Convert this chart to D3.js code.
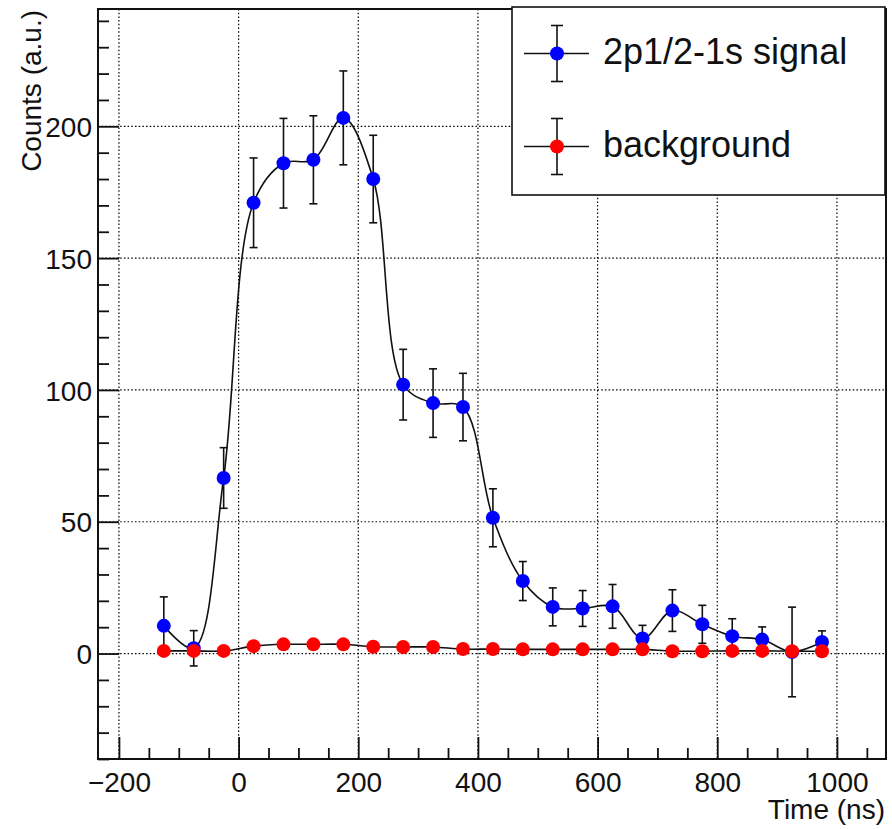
<!DOCTYPE html>
<html>
  <head>
    <meta charset="utf-8">
    <title>Counts vs time</title>
    <style>
      body { margin: 0; background: #fff; }
      text { font-family: "Liberation Sans", Arial, sans-serif; fill: #111; }
      .grid line { stroke: #000; stroke-width: 1.2; stroke-dasharray: 1.5,2.2; }
      .axis path { display: none; }
      .axis line { stroke: #111; stroke-width: 1.8; }
      path.curve { fill: none; stroke: #111; stroke-width: 1.6; }
      line.err { stroke: #111; stroke-width: 1.6; }
    </style>
    <script src="https://d3js.org/d3.v7.min.js"></script>
  </head>
  <body>
    <svg id="chart" width="892" height="829"></svg>
    <script>
      // bin centres (ns)
      var times = [-125, -75, -25, 25, 75, 125, 175, 225, 275, 325, 375, 425,
                   475, 525, 575, 625, 675, 725, 775, 825, 875, 925, 975]
      // 2p1/2-1s signal
      var signal    = [10.5, 2, 66.6, 171, 186, 187.3, 203.2, 180, 102, 95, 93.5, 51.5,
                       27.5, 17.7, 17.1, 17.9, 5.7, 16.3, 11.1, 6.6, 5.3, 0.6, 4.4]
      var signalErr = [11, 6.7, 11.5, 17, 17, 16.7, 17.8, 16.6, 13.4, 13, 12.8, 11,
                       7.4, 7.2, 6.8, 8.3, 5, 7.9, 7.2, 6.6, 4.8, 17, 4.2]
      // background
      var bkg    = [1.0, 1.0, 1.0, 2.8, 3.5, 3.5, 3.5, 2.6, 2.5, 2.5, 1.7, 1.7,
                    1.6, 1.6, 1.6, 1.6, 1.6, 0.9, 0.9, 1.0, 1.0, 0.9, 0.9]
      var bkgErr = [1.2, 1.2, 1.2, 1.4, 1.5, 1.5, 1.5, 1.4, 1.4, 1.4, 1.2, 1.2,
                    1.2, 1.2, 1.2, 1.2, 1.2, 1.0, 1.0, 1.0, 1.0, 1.0, 1.0]

      var xMajor = [-200, 0, 200, 400, 600, 800, 1000]
      var xMinor = d3.range(-200, 1051, 50).filter(v => xMajor.indexOf(v) < 0)
      var yMajor = [0, 50, 100, 150, 200]
      var yMinor = d3.range(-40, 241, 10).filter(v => yMajor.indexOf(v) < 0)

      var legendNames = ["2p1/2-1s signal", "background"]
      var legendColors = ["#0000ff", "#ff0000"]

      function drawChart(){
        var svg = d3.select("#chart")
        var left = 98, right = 886, pTop = 9, bottom = 759

        var x = d3.scaleLinear().domain([-235, 1082]).range([left, right])
        var y = d3.scaleLinear().domain([-40, 244.5]).range([bottom, pTop])

        // grid
        var grid = svg.append("g").attr("class", "grid")
        grid.selectAll("line.gx").data(xMajor).join("line")
            .attr("class", "gx")
            .attr("x1", d => x(d)).attr("x2", d => x(d))
            .attr("y1", pTop).attr("y2", bottom)
        grid.selectAll("line.gy").data(yMajor).join("line")
            .attr("class", "gy")
            .attr("x1", left).attr("x2", right)
            .attr("y1", d => y(d)).attr("y2", d => y(d))

        // axes, ticks drawn inward
        svg.append("g").attr("class", "axis")
           .attr("transform", "translate(0," + bottom + ")")
           .call(d3.axisBottom(x).tickValues(xMinor).tickSize(-11).tickFormat(""))
        var xa = svg.append("g").attr("class", "axis")
           .attr("transform", "translate(0," + bottom + ")")
           .call(d3.axisBottom(x).tickValues(xMajor).tickSize(-22).tickFormat(d3.format("d")))
        xa.selectAll("text").attr("y", 33).attr("dy", 0)
          .style("font-size", "28px").attr("fill", "#111")

        svg.append("g").attr("class", "axis")
           .attr("transform", "translate(" + left + ",0)")
           .call(d3.axisLeft(y).tickValues(yMinor).tickSize(-11).tickFormat(""))
        var ya = svg.append("g").attr("class", "axis")
           .attr("transform", "translate(" + left + ",0)")
           .call(d3.axisLeft(y).tickValues(yMajor).tickSize(-21).tickFormat(d3.format("d")))
        ya.selectAll("text").attr("x", -6).attr("dy", "0.36em")
          .style("font-size", "28px").attr("fill", "#111")

        // axis titles
        svg.append("text")
           .attr("x", 885).attr("y", 819)
           .attr("text-anchor", "end")
           .style("font-size", "28px")
           .text("Time (ns)")
        svg.append("text")
           .attr("transform", "translate(41,10) rotate(-90)")
           .attr("text-anchor", "end")
           .style("font-size", "28px")
           .text("Counts (a.u.)")

        var line = d3.line()
                     .x(d => x(d[0]))
                     .y(d => y(d[1]))
                     .curve(d3.curveCatmullRom.alpha(0.5))

        function drawSeries(vals, errs, color){
          var pts = times.map((t, i) => [t, vals[i], errs[i]])
          var g = svg.append("g")
          g.append("path").attr("class", "curve").attr("d", line(pts))
          var e = g.selectAll("g.e").data(pts).join("g").attr("class", "e")
          e.append("line").attr("class", "err")
           .attr("x1", d => x(d[0])).attr("x2", d => x(d[0]))
           .attr("y1", d => y(d[1] + d[2])).attr("y2", d => y(d[1] - d[2]))
          e.append("line").attr("class", "err")
           .attr("x1", d => x(d[0]) - 4).attr("x2", d => x(d[0]) + 4)
           .attr("y1", d => y(d[1] + d[2])).attr("y2", d => y(d[1] + d[2]))
          e.append("line").attr("class", "err")
           .attr("x1", d => x(d[0]) - 4).attr("x2", d => x(d[0]) + 4)
           .attr("y1", d => y(d[1] - d[2])).attr("y2", d => y(d[1] - d[2]))
          g.selectAll("circle").data(pts).join("circle")
           .attr("cx", d => x(d[0])).attr("cy", d => y(d[1]))
           .attr("r", 7).attr("fill", color)
        }
        drawSeries(signal, signalErr, legendColors[0])
        drawSeries(bkg, bkgErr, legendColors[1])

        // frame
        svg.append("rect")
           .attr("x", left).attr("y", pTop)
           .attr("width", right - left).attr("height", bottom - pTop)
           .attr("fill", "none").attr("stroke", "#111").attr("stroke-width", 2)

        // legend
        var lg = svg.append("g")
        lg.append("rect")
          .attr("x", 512).attr("y", 7).attr("width", 373).attr("height", 188)
          .attr("fill", "#fff").attr("stroke", "#111").attr("stroke-width", 1.6)
        var le = lg.selectAll("g.le").data(legendNames).join("g")
                   .attr("class", "le")
                   .attr("transform", (d, i) => "translate(0," + (53.5 + i * 93) + ")")
        le.append("line").attr("class", "err").attr("x1", 524).attr("x2", 589)
        le.append("line").attr("class", "err").attr("x1", 557).attr("x2", 557)
          .attr("y1", -28).attr("y2", 28)
        le.append("line").attr("class", "err").attr("x1", 551).attr("x2", 563)
          .attr("y1", -28).attr("y2", -28)
        le.append("line").attr("class", "err").attr("x1", 551).attr("x2", 563)
          .attr("y1", 28).attr("y2", 28)
        le.append("circle").attr("cx", 557).attr("r", 7)
          .attr("fill", (d, i) => legendColors[i])
        le.append("text").attr("x", 603).attr("y", 10)
          .style("font-size", "36px")
          .text(d => d)
      }
      drawChart()
    </script>
  </body>
</html>
